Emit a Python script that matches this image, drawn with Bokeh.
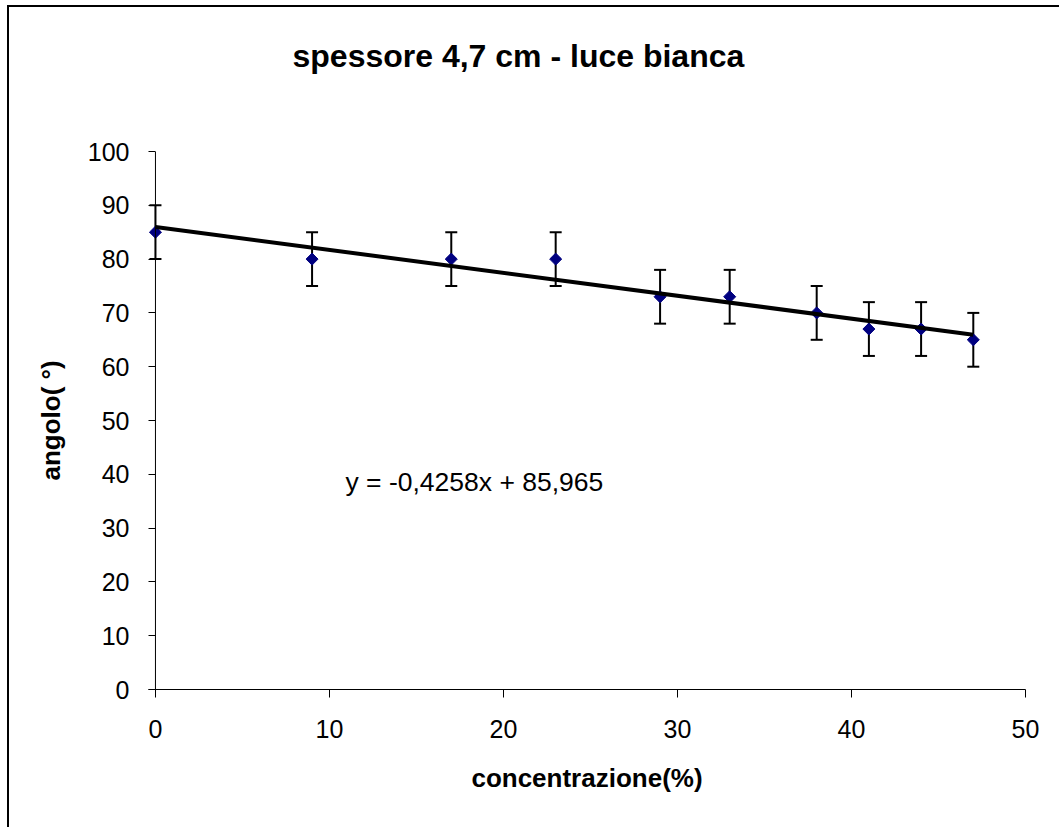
import numpy as np
from bokeh.plotting import figure
from bokeh.models import (ColumnDataSource, Whisker, TeeHead, Label, FixedTicker, Range1d,
                          Span, Title)
from bokeh.embed import file_html
from bokeh.resources import INLINE

# ---- data ----
concentrazione = [0, 9, 17, 23, 29, 33, 38, 41, 44, 47]
angolo = [85, 80, 80, 80, 73, 73, 70, 67, 67, 65]
errore = [5, 5, 5, 5, 5, 5, 5, 5, 5, 5]
slope = -0.4258
intercept = 85.965
x_ticks = [0, 10, 20, 30, 40, 50]
y_ticks = [0, 10, 20, 30, 40, 50, 60, 70, 80, 90, 100]
title_text = "spessore 4,7 cm - luce bianca"
x_label = "concentrazione(%)"
y_label = "angolo( °)"
eq_text = "y = -0,4258x + 85,965"

FONT = "Liberation Sans"

p = figure(width=1052, height=822, output_backend="svg", toolbar_location=None,
           x_range=Range1d(-0.4, 50), y_range=Range1d(0, 100),
           min_border_left=139, min_border_right=36, min_border_top=144, min_border_bottom=140,
           background_fill_color="white", border_fill_color="white")
p.styles = {"margin-left": "7px", "margin-top": "5px",
            "border-left": "2px solid black", "border-top": "2px solid black"}
p.outline_line_color = None
p.xgrid.visible = False
p.ygrid.visible = False

# axes
for ax in (p.xaxis[0], p.yaxis[0]):
    ax.axis_line_color = "black"
    ax.axis_line_width = 1
    ax.major_tick_line_color = "black"
    ax.major_tick_line_width = 1
    ax.minor_tick_line_color = None
    ax.major_label_text_font = FONT
    ax.major_label_text_font_size = "25px"
    ax.major_label_text_color = "black"
    ax.axis_label_text_font = FONT
    ax.axis_label_text_font_size = "26px"
    ax.axis_label_text_font_style = "bold"
    ax.axis_label_text_color = "black"

p.xaxis.ticker = FixedTicker(ticks=x_ticks)
p.yaxis.ticker = FixedTicker(ticks=y_ticks)
p.xaxis.major_tick_in = 0
p.xaxis.major_tick_out = 8
# y axis sits at frame edge (x=-0.4); its ticks reach inward to x=0
p.yaxis.major_tick_in = 7
p.yaxis.major_tick_out = 0
p.yaxis.axis_line_color = None
p.xaxis.major_label_standoff = 22
p.yaxis.major_label_standoff = 19
p.xaxis.axis_label = x_label
p.yaxis.axis_label = y_label
p.xaxis.axis_label_standoff = 22
p.yaxis.axis_label_standoff = 19

# vertical axis line at x = 0
p.add_layout(Span(location=0, dimension="height", line_color="black", line_width=1))

# error bars
src = ColumnDataSource(dict(
    x=concentrazione, y=angolo,
    upper=[a + e for a, e in zip(angolo, errore)],
    lower=[a - e for a, e in zip(angolo, errore)],
))
wh = Whisker(base="x", upper="upper", lower="lower", source=src,
             line_color="black", line_width=2,
             upper_head=TeeHead(size=12, line_color="black", line_width=2),
             lower_head=TeeHead(size=12, line_color="black", line_width=2))
p.add_layout(wh)

# markers
p.scatter("x", "y", source=src, marker="square", angle=np.pi / 4, size=8.5,
          fill_color="#000080", line_color="#000080")

# trendline
tx = [min(concentrazione), max(concentrazione)]
ty = [slope * v + intercept for v in tx]
p.line(tx, ty, line_color="black", line_width=4)

# equation
p.add_layout(Label(x=10.92, y=38.6, text=eq_text, text_font=FONT, text_font_size="26.5px",
                   text_align="left", text_baseline="middle", text_color="black"))

# title (blank trailing lines lift it towards the top of the chart area)
p.title = Title(text=title_text + "\n \n ", align="left", offset=144, standoff=8,
                vertical_align="top",
                text_font=FONT, text_font_size="32px", text_font_style="bold",
                text_color="black")

open("out.html", "w").write(file_html(p, INLINE))
